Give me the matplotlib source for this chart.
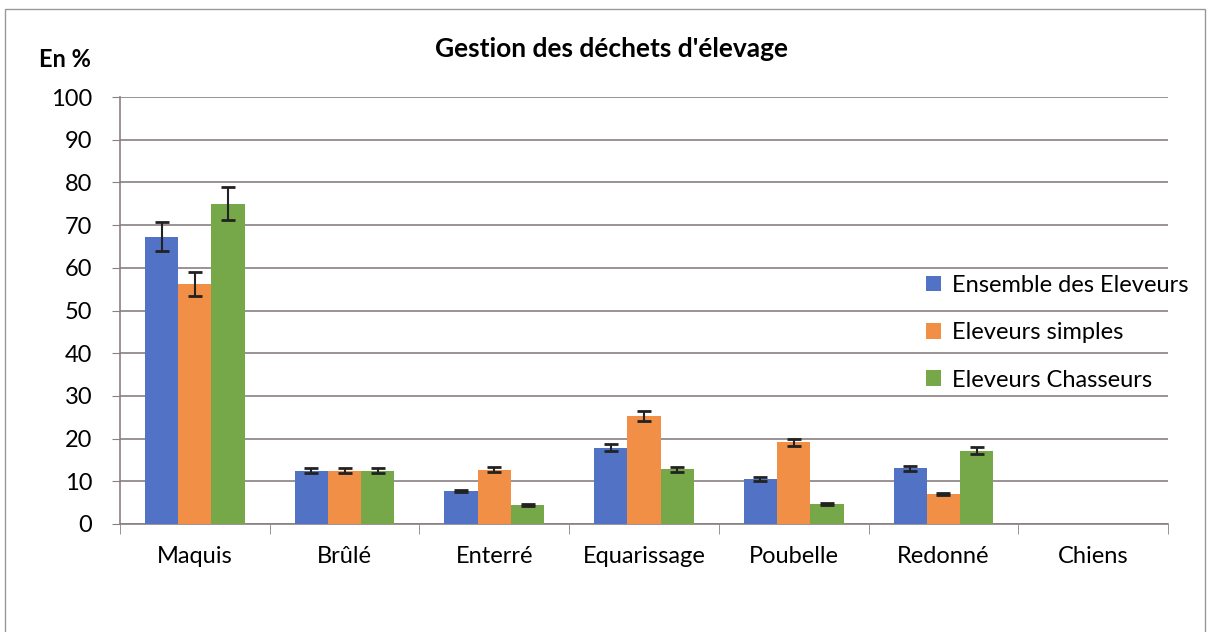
import matplotlib
matplotlib.use("Agg")
import matplotlib.pyplot as plt
import numpy as np
from matplotlib.patches import Rectangle

categories = ["Maquis", "Brûlé", "Enterré", "Equarissage", "Poubelle", "Redonné", "Chiens"]
series_names = ["Ensemble des Eleveurs", "Eleveurs simples", "Eleveurs Chasseurs"]
ensemble = [67.3, 12.5, 7.7, 17.9, 10.5, 13.0, 0]
simples = [56.2, 12.5, 12.7, 25.3, 19.1, 7.0, 0]
chasseurs = [75.0, 12.5, 4.4, 12.8, 4.7, 17.2, 0]
err_ensemble = [3.4, 0.6, 0.3, 0.8, 0.5, 0.6, np.nan]
err_simples = [2.9, 0.6, 0.6, 1.1, 0.9, 0.3, np.nan]
err_chasseurs = [3.9, 0.6, 0.2, 0.6, 0.2, 0.8, np.nan]
colors = ["#5272c6", "#f08f45", "#76a84a"]

plt.rcParams['font.family'] = ['Lato', 'DejaVu Sans']

fig = plt.figure(figsize=(12.07, 6.32), dpi=100)
ax = fig.add_axes([0.0994, 0.1709, 0.8683, 0.6756])

x = np.arange(len(categories))
w = 0.222
data = [ensemble, simples, chasseurs]
errs = [err_ensemble, err_simples, err_chasseurs]
for i in range(3):
    ax.bar(x + (i - 1) * w, data[i], w, color=colors[i], label=series_names[i], zorder=3)
    ax.errorbar(x + (i - 1) * w, data[i], yerr=errs[i], fmt="none", ecolor="#222222",
                elinewidth=1.5, capthick=2, capsize=5, zorder=4)

ax.set_xlim(-0.5, len(categories) - 0.5)
ax.set_ylim(0, 100)
ax.set_yticks(range(0, 101, 10))
ax.yaxis.grid(True, color="#8a8080", linewidth=1.2, zorder=0)
ax.set_axisbelow(True)
ax.set_xticks(x)
ax.set_xticklabels(categories, fontsize=17)
ax.tick_params(axis='x', length=0, pad=16)
ax.set_xticks(np.arange(-0.5, len(categories), 1), minor=True)
ax.tick_params(axis='x', which='minor', length=7, color="#8a8080")
ax.tick_params(axis='y', labelsize=17, length=6, color="#8a8080", pad=14)
for s in ["top", "right"]:
    ax.spines[s].set_visible(False)
for s in ["left", "bottom"]:
    ax.spines[s].set_color("#8a8080")
    ax.spines[s].set_linewidth(1.2)

leg = ax.legend(loc="upper left", bbox_to_anchor=(0.76, 0.606), frameon=False,
                fontsize=17, handlelength=0.65, handleheight=0.65, labelspacing=1.12,
                handletextpad=0.45, borderaxespad=0)

fig.text(0.507, 0.922, "Gestion des déchets d'élevage", ha="center", va="center",
         fontsize=19, fontweight="bold")
fig.text(0.054, 0.906, "En %", ha="center", va="center", fontsize=17, fontweight="bold")

fig.patches.append(Rectangle((0.004, -0.01), 0.994, 0.995, transform=fig.transFigure,
                             fill=False, edgecolor="#999999", linewidth=1))

fig.savefig("out.png", dpi=100)
